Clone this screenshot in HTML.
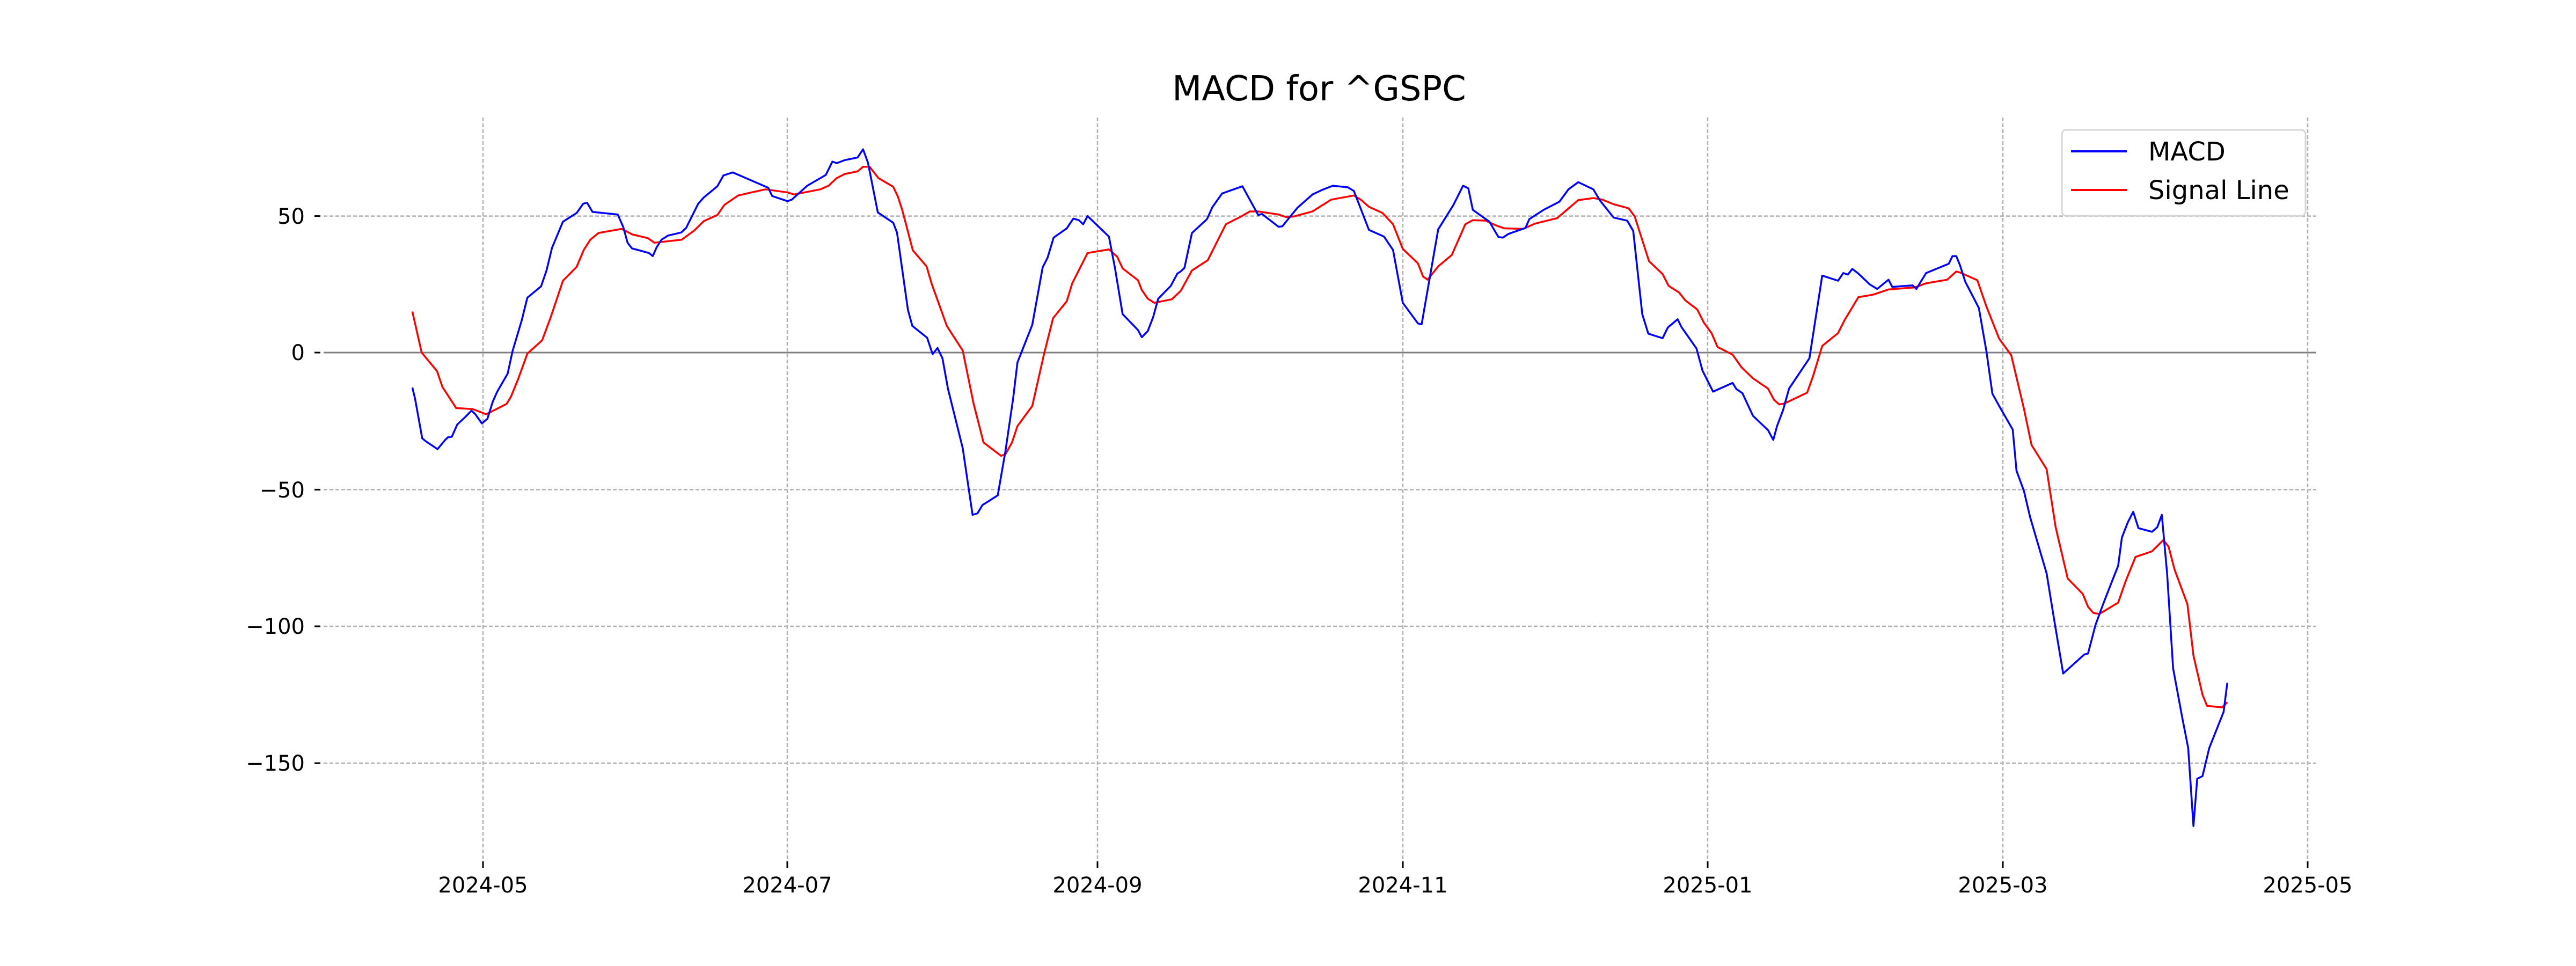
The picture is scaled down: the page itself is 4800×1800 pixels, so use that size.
<!DOCTYPE html>
<html><head><meta charset="utf-8"><style>html,body{margin:0;padding:0;background:#fff}svg{display:block}</style></head>
<body>
<svg width="4800" height="1800" viewBox="0 0 4800 1800" xmlns="http://www.w3.org/2000/svg" font-family="DejaVu Sans, Liberation Sans, sans-serif">
<rect width="4800" height="1800" fill="#fff"/>
<g stroke="#b0b0b0" stroke-width="2.5" stroke-dasharray="7,4">
<line x1="603" y1="402.6" x2="4316" y2="402.6"/>
<line x1="603" y1="912.4" x2="4316" y2="912.4"/>
<line x1="603" y1="1167" x2="4316" y2="1167"/>
<line x1="603" y1="1422" x2="4316" y2="1422"/>
<line x1="900" y1="219" x2="900" y2="1600"/>
<line x1="1467" y1="219" x2="1467" y2="1600"/>
<line x1="2045" y1="219" x2="2045" y2="1600"/>
<line x1="2614" y1="219" x2="2614" y2="1600"/>
<line x1="3182" y1="219" x2="3182" y2="1600"/>
<line x1="3732" y1="219" x2="3732" y2="1600"/>
<line x1="4300" y1="219" x2="4300" y2="1600"/>
</g>
<line x1="603" y1="657" x2="4316" y2="657" stroke="#808080" stroke-width="3"/>
<g stroke="#000" stroke-width="3">
<line x1="900" y1="1605" x2="900" y2="1617"/><line x1="1467" y1="1605" x2="1467" y2="1617"/>
<line x1="2045" y1="1605" x2="2045" y2="1617"/><line x1="2614" y1="1605" x2="2614" y2="1617"/>
<line x1="3182" y1="1605" x2="3182" y2="1617"/><line x1="3732" y1="1605" x2="3732" y2="1617"/>
<line x1="4300" y1="1605" x2="4300" y2="1617"/>
<line x1="586" y1="402.6" x2="597" y2="402.6"/><line x1="586" y1="657" x2="597" y2="657"/>
<line x1="586" y1="912.4" x2="597" y2="912.4"/><line x1="586" y1="1167" x2="597" y2="1167"/>
<line x1="586" y1="1422" x2="597" y2="1422"/>
</g>
<g font-size="40" fill="#000" text-anchor="middle">
<text x="900" y="1663">2024-05</text><text x="1467" y="1663">2024-07</text>
<text x="2045" y="1663">2024-09</text><text x="2614" y="1663">2024-11</text>
<text x="3182" y="1663">2025-01</text><text x="3732" y="1663">2025-03</text>
<text x="4300" y="1663">2025-05</text>
</g>
<g font-size="40" fill="#000" text-anchor="end">
<text x="568" y="417">50</text><text x="568" y="671">0</text>
<text x="568" y="927">−50</text><text x="568" y="1181">−100</text>
<text x="568" y="1436">−150</text>
</g>
<text x="2458" y="187" font-size="64" text-anchor="middle">MACD for ^GSPC</text>
<g fill="none" stroke-width="3.5" stroke-linejoin="round">
<g transform="translate(600,150) scale(1.0204,0.9567)">
<polyline vector-effect="non-scaling-stroke" stroke="#ff0000" points="165,450 182,530 210,566 220,597 245,638 275,640 300,650 337,630 345,616 358,582 375,532 402,506 418,460 440,390 465,363 478,330 490,310 505,297 547,289 567,300 595,307 607,316 657,310 680,292 697,274 722,262 735,242 760,224 784,218 810,212 850,218 862,222 910,212 925,205 940,190 955,182 978,177 988,168 1000,168 1016,190 1043,207 1052,227 1060,254 1079,331 1104,362 1113,395 1141,478 1150,493 1170,526 1190,630 1208,705 1240,731 1248,728 1260,705 1270,673 1297,634 1300,620 1318,535 1335,463 1360,430 1370,395 1398,336 1437,329 1452,343 1462,366 1490,389 1497,408 1508,425 1520,433 1552,426 1568,410"/>
<polyline vector-effect="non-scaling-stroke" stroke="#0000ff" points="165,598 170,620 183,697 190,703 211,718 225,700 230,695 237,694 247,670 262,655 273,643 280,650 292,668 302,659 312,625 320,606 339,571 348,527 365,466 375,423 400,401 410,370 420,326 440,275 465,258 477,240 484,238 494,256 540,261 550,285 558,316 566,327 597,336 604,342 611,325 620,310 632,302 656,296 665,287 687,240 697,228 722,206 733,185 750,179 815,209 822,225 850,235 858,232 886,205 920,184 932,158 940,161 955,155 978,150 988,134 997,160 1015,257 1043,277 1050,296 1070,447 1078,478 1105,501 1115,533 1124,521 1133,541 1143,600 1170,716 1188,846 1197,843 1206,827 1234,808 1248,722 1262,620 1270,549 1297,476 1316,364 1325,345 1336,306 1360,288 1372,269 1382,272 1390,280 1398,264 1437,304 1448,365 1462,455 1490,486 1497,500 1508,488 1518,460 1527,425 1550,400 1562,376 1568,372"/>
</g>
<g transform="translate(2200,150) scale(1.4031,0.9567)">
<polyline vector-effect="non-scaling-stroke" stroke="#ff0000" points="0,410 15,370 36,350 60,280 80,265 92,255 103,255 130,261 140,266 150,265 175,255 200,232 230,224 240,233 250,246 268,258 282,280 295,328 315,356 322,382 328,388 342,362 360,340 378,280 388,272 405,273 420,283 430,288 455,289 470,279 500,268 528,233 548,229 560,232 575,241 595,249 603,265 622,352 640,377 648,400 662,413 670,428 686,446 695,472 705,492 713,519 733,534 745,559 760,580 780,600 788,622 795,631 802,629 832,608 840,575 852,517 873,492 882,466 900,422 920,417 940,407 975,403 990,395 1018,388 1030,372 1035,374 1058,389 1070,440 1087,503 1103,535 1120,640 1130,710 1150,757 1162,870 1178,970 1198,1000 1205,1025 1212,1037 1220,1039 1245,1017 1255,975 1268,928 1290,917 1305,895 1312,908 1320,953 1337,1020 1345,1120 1357,1196 1363,1218 1383,1221 1390,1211"/>
<polyline vector-effect="non-scaling-stroke" stroke="#0000ff" points="0,372 5,365 15,297 35,270 42,247 55,220 82,206 103,262 108,260 130,285 135,284 155,248 175,222 188,213 202,205 222,208 230,215 250,291 270,304 282,330 295,433 315,473 320,475 342,290 362,243 375,205 382,210 388,252 410,275 422,305 428,306 435,299 458,287 463,270 482,252 503,236 515,212 528,198 548,212 557,234 575,267 593,273 601,293 613,455 621,493 640,502 647,481 660,465 665,480 685,522 693,565 707,606 733,589 738,601 746,609 760,653 780,681 787,700 792,673 800,642 808,600 835,541 852,380 873,390 880,375 886,378 892,367 900,376 915,397 925,406 940,388 945,402 972,399 977,406 990,375 1020,357 1025,342 1030,342 1035,360 1042,392 1060,443 1070,527 1078,610 1087,634 1105,680 1110,760 1120,800 1128,850 1150,960 1160,1050 1172,1155 1200,1118 1205,1116 1215,1060 1225,1020 1245,945 1250,890 1258,860 1265,840 1272,872 1290,879 1297,870 1303,846 1310,960 1318,1145 1330,1240 1338,1300 1345,1452 1350,1360 1357,1355 1366,1300 1385,1230 1390,1173"/>
</g>
</g>
<rect x="3842" y="242" width="454" height="160" rx="8" fill="#fff" fill-opacity="0.85" stroke="#d6d6d6" stroke-width="3"/>
<line x1="3859" y1="282" x2="3963" y2="282" stroke="#0000ff" stroke-width="4"/>
<line x1="3859" y1="354" x2="3963" y2="354" stroke="#ff0000" stroke-width="4"/>
<text x="4003" y="299" font-size="48">MACD</text>
<text x="4003" y="371" font-size="48">Signal Line</text>
</svg>
</body></html>
